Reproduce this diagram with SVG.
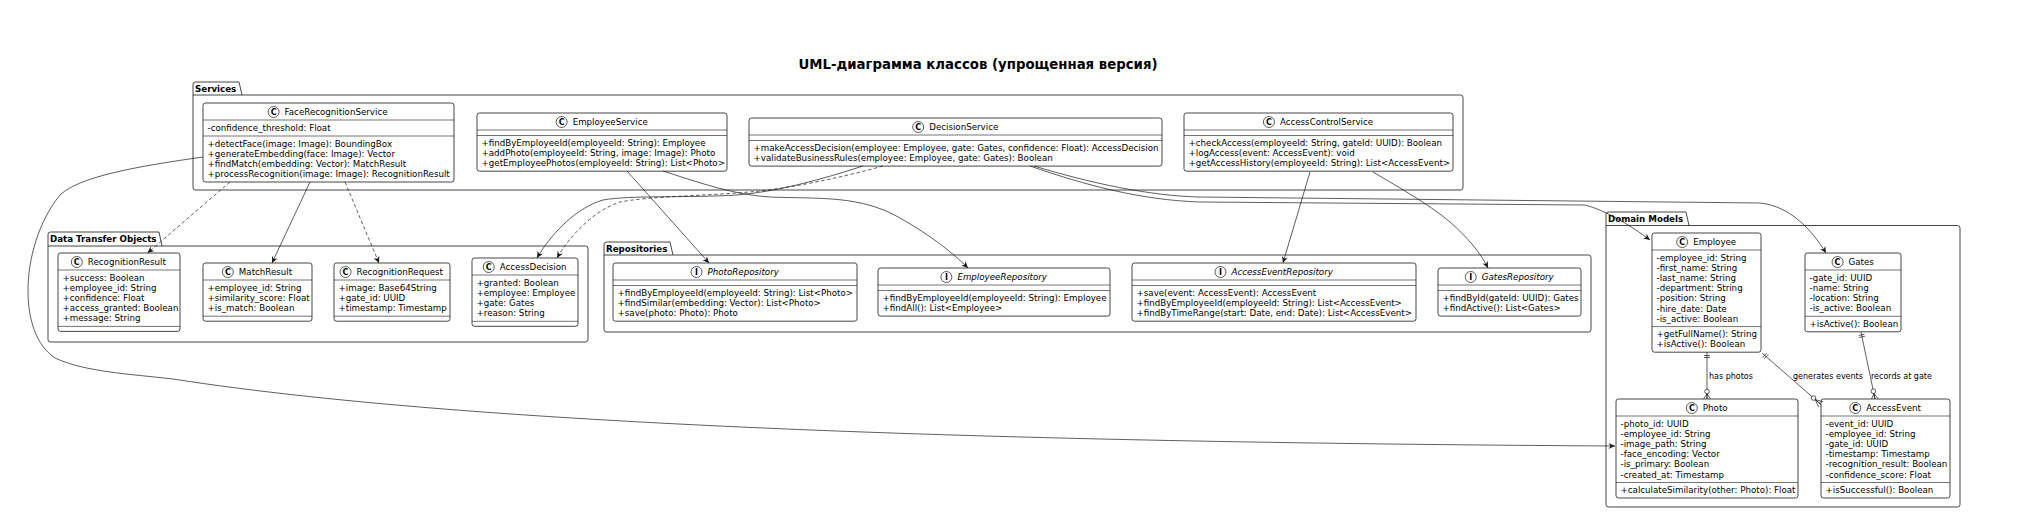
<svg xmlns="http://www.w3.org/2000/svg" width="2038" height="520" viewBox="0 0 2038 520">
<style>
.pkg{fill:none;stroke:#181818;stroke-width:0.8}
.box{fill:#fff;stroke:#181818;stroke-width:0.8}
.sep{stroke:#181818;stroke-width:0.6}
.ic{fill:#fff;stroke:#181818;stroke-width:0.7}
.t{font-family:'DejaVu Sans',Verdana,sans-serif;font-size:8.7px;fill:#000}
.it{font-style:italic}
.il{font-family:'DejaVu Sans',sans-serif;font-size:8px;font-weight:bold;text-anchor:middle;fill:#000}
.pl{font-family:'DejaVu Sans',sans-serif;font-size:8.7px;font-weight:bold;fill:#000}
.lb{font-family:'DejaVu Sans',sans-serif;font-size:8px;fill:#000}
.e{fill:none;stroke:#181818;stroke-width:0.7}
.d{stroke-dasharray:3.5 2.5}
.title{font-family:'DejaVu Sans',sans-serif;font-size:13.3px;font-weight:bold;text-anchor:middle;fill:#000}
</style>
<defs>
<marker id="a" viewBox="-8 -4 9 8" refX="0" refY="0" markerWidth="9" markerHeight="8" markerUnits="userSpaceOnUse" orient="auto"><path d="M0,0 L-6.5,-3 L-4.5,0 L-6.5,3 Z" fill="#181818"/></marker>
</defs>
<rect x="0" y="0" width="2038" height="520" fill="#fff"/>
<text class="title" x="978" y="69">UML-диаграмма классов (упрощенная версия)</text>

<g id="pkg-services">
<path class="pkg" d="M193,84.5 Q193,82 195.5,82 L239,82 L242,95 L1460.5,95 Q1463,95 1463,97.5 L1463,187.5 Q1463,190 1460.5,190 L195.5,190 Q193,190 193,187.5 Z M193,95 H242"/>
<text class="pl" x="195" y="91.5">Services</text>
</g>
<g id="pkg-dto">
<path class="pkg" d="M48,234.5 Q48,232 50.5,232 L159,232 L162,246 L585.5,246 Q588,246 588,248.5 L588,339.5 Q588,342 585.5,342 L50.5,342 Q48,342 48,339.5 Z M48,246 H162"/>
<text class="pl" x="50" y="241.5">Data Transfer Objects</text>
</g>
<g id="pkg-repositories">
<path class="pkg" d="M604,244.5 Q604,242 606.5,242 L670,242 L673,255 L1588.5,255 Q1591,255 1591,257.5 L1591,329.5 Q1591,332 1588.5,332 L606.5,332 Q604,332 604,329.5 Z M604,255 H673"/>
<text class="pl" x="606" y="251.5">Repositories</text>
</g>
<g id="pkg-domain">
<path class="pkg" d="M1606,214.5 Q1606,212 1608.5,212 L1686,212 L1689,225.5 L1957.5,225.5 Q1960,225.5 1960,228 L1960,504.5 Q1960,507 1957.5,507 L1608.5,507 Q1606,507 1606,504.5 Z M1606,225.5 H1689"/>
<text class="pl" x="1608" y="221.5">Domain Models</text>
</g>

<g id="FaceRecognitionService">
<rect class="box" x="203" y="103" width="251" height="79" rx="2.5"/>
<circle class="ic" cx="273.6" cy="112" r="5.5"/><text class="il" x="273.6" y="114.9">C</text>
<text class="t" x="284.6" y="115">FaceRecognitionService</text>
<line class="sep" x1="203" y1="120" x2="454" y2="120"/>
<text class="t" x="207.5" y="131">-confidence_threshold: Float</text>
<line class="sep" x1="203" y1="136" x2="454" y2="136"/>
<text class="t" x="207.5" y="146.5">+detectFace(image: Image): BoundingBox</text>
<text class="t" x="207.5" y="156.6">+generateEmbedding(face: Image): Vector</text>
<text class="t" x="207.5" y="166.7">+findMatch(embedding: Vector): MatchResult</text>
<text class="t" x="207.5" y="176.8">+processRecognition(image: Image): RecognitionResult</text>
</g>
<g id="EmployeeService">
<rect class="box" x="477" y="113" width="250" height="58.2" rx="2.5"/>
<circle class="ic" cx="561.65" cy="122" r="5.5"/><text class="il" x="561.65" y="124.9">C</text>
<text class="t" x="572.65" y="125">EmployeeService</text>
<line class="sep" x1="477" y1="130" x2="727" y2="130"/>
<line class="sep" x1="477" y1="135.5" x2="727" y2="135.5"/>
<text class="t" x="481.5" y="146">+findByEmployeeId(employeeId: String): Employee</text>
<text class="t" x="481.5" y="156.1">+addPhoto(employeeId: String, image: Image): Photo</text>
<text class="t" x="481.5" y="166.2">+getEmployeePhotos(employeeId: String): List&lt;Photo&gt;</text>
</g>
<g id="DecisionService">
<rect class="box" x="749" y="118" width="413" height="48.1" rx="2.5"/>
<circle class="ic" cx="918.2" cy="127" r="5.5"/><text class="il" x="918.2" y="129.9">C</text>
<text class="t" x="929.2" y="130">DecisionService</text>
<line class="sep" x1="749" y1="135" x2="1162" y2="135"/>
<line class="sep" x1="749" y1="140.5" x2="1162" y2="140.5"/>
<text class="t" x="753.5" y="151">+makeAccessDecision(employee: Employee, gate: Gates, confidence: Float): AccessDecision</text>
<text class="t" x="753.5" y="161.1">+validateBusinessRules(employee: Employee, gate: Gates): Boolean</text>
</g>
<g id="AccessControlService">
<rect class="box" x="1184" y="113" width="269" height="58.2" rx="2.5"/>
<circle class="ic" cx="1268.9" cy="122" r="5.5"/><text class="il" x="1268.9" y="124.9">C</text>
<text class="t" x="1279.9" y="125">AccessControlService</text>
<line class="sep" x1="1184" y1="130" x2="1453" y2="130"/>
<line class="sep" x1="1184" y1="135.5" x2="1453" y2="135.5"/>
<text class="t" x="1188.5" y="146">+checkAccess(employeeId: String, gateId: UUID): Boolean</text>
<text class="t" x="1188.5" y="156.1">+logAccess(event: AccessEvent): void</text>
<text class="t" x="1188.5" y="166.2">+getAccessHistory(employeeId: String): List&lt;AccessEvent&gt;</text>
</g>

<g id="RecognitionResult">
<rect class="box" x="58" y="253" width="122" height="78.4" rx="2.5"/>
<circle class="ic" cx="76.8" cy="262" r="5.5"/><text class="il" x="76.8" y="264.9">C</text>
<text class="t" x="87.8" y="265">RecognitionResult</text>
<line class="sep" x1="58" y1="270" x2="180" y2="270"/>
<text class="t" x="62.5" y="281">+success: Boolean</text>
<text class="t" x="62.5" y="291.1">+employee_id: String</text>
<text class="t" x="62.5" y="301.2">+confidence: Float</text>
<text class="t" x="62.5" y="311.3">+access_granted: Boolean</text>
<text class="t" x="62.5" y="321.4">+message: String</text>
<line class="sep" x1="58" y1="326.4" x2="180" y2="326.4"/>
</g>
<g id="MatchResult">
<rect class="box" x="203" y="263" width="109" height="58.2" rx="2.5"/>
<circle class="ic" cx="227.85" cy="272" r="5.5"/><text class="il" x="227.85" y="274.9">C</text>
<text class="t" x="238.85" y="275">MatchResult</text>
<line class="sep" x1="203" y1="280" x2="312" y2="280"/>
<text class="t" x="207.5" y="291">+employee_id: String</text>
<text class="t" x="207.5" y="301.1">+similarity_score: Float</text>
<text class="t" x="207.5" y="311.2">+is_match: Boolean</text>
<line class="sep" x1="203" y1="316.2" x2="312" y2="316.2"/>
</g>
<g id="RecognitionRequest">
<rect class="box" x="334" y="263" width="116" height="58.2" rx="2.5"/>
<circle class="ic" cx="345.55" cy="272" r="5.5"/><text class="il" x="345.55" y="274.9">C</text>
<text class="t" x="356.55" y="275">RecognitionRequest</text>
<line class="sep" x1="334" y1="280" x2="450" y2="280"/>
<text class="t" x="338.5" y="291">+image: Base64String</text>
<text class="t" x="338.5" y="301.1">+gate_id: UUID</text>
<text class="t" x="338.5" y="311.2">+timestamp: Timestamp</text>
<line class="sep" x1="334" y1="316.2" x2="450" y2="316.2"/>
</g>
<g id="AccessDecision">
<rect class="box" x="472" y="258" width="106" height="68.3" rx="2.5"/>
<circle class="ic" cx="488.75" cy="267" r="5.5"/><text class="il" x="488.75" y="269.9">C</text>
<text class="t" x="499.75" y="270">AccessDecision</text>
<line class="sep" x1="472" y1="275" x2="578" y2="275"/>
<text class="t" x="476.5" y="286">+granted: Boolean</text>
<text class="t" x="476.5" y="296.1">+employee: Employee</text>
<text class="t" x="476.5" y="306.2">+gate: Gates</text>
<text class="t" x="476.5" y="316.3">+reason: String</text>
<line class="sep" x1="472" y1="321.3" x2="578" y2="321.3"/>
</g>

<g id="PhotoRepository">
<rect class="box" x="613" y="263" width="244" height="58.2" rx="2.5"/>
<circle class="ic" cx="696.5" cy="272" r="5.5"/><text class="il" x="696.5" y="274.9">I</text>
<text class="t it" x="707.5" y="275">PhotoRepository</text>
<line class="sep" x1="613" y1="280" x2="857" y2="280"/>
<line class="sep" x1="613" y1="285.5" x2="857" y2="285.5"/>
<text class="t" x="617.5" y="296">+findByEmployeeId(employeeId: String): List&lt;Photo&gt;</text>
<text class="t" x="617.5" y="306.1">+findSimilar(embedding: Vector): List&lt;Photo&gt;</text>
<text class="t" x="617.5" y="316.2">+save(photo: Photo): Photo</text>
</g>
<g id="EmployeeRepository">
<rect class="box" x="878" y="268" width="232" height="48.1" rx="2.5"/>
<circle class="ic" cx="946.4" cy="277" r="5.5"/><text class="il" x="946.4" y="279.9">I</text>
<text class="t it" x="957.4" y="280">EmployeeRepository</text>
<line class="sep" x1="878" y1="285" x2="1110" y2="285"/>
<line class="sep" x1="878" y1="290.5" x2="1110" y2="290.5"/>
<text class="t" x="882.5" y="301">+findByEmployeeId(employeeId: String): Employee</text>
<text class="t" x="882.5" y="311.1">+findAll(): List&lt;Employee&gt;</text>
</g>
<g id="AccessEventRepository">
<rect class="box" x="1132" y="263" width="284" height="58.2" rx="2.5"/>
<circle class="ic" cx="1220.5" cy="272" r="5.5"/><text class="il" x="1220.5" y="274.9">I</text>
<text class="t it" x="1231.5" y="275">AccessEventRepository</text>
<line class="sep" x1="1132" y1="280" x2="1416" y2="280"/>
<line class="sep" x1="1132" y1="285.5" x2="1416" y2="285.5"/>
<text class="t" x="1136.5" y="296">+save(event: AccessEvent): AccessEvent</text>
<text class="t" x="1136.5" y="306.1">+findByEmployeeId(employeeId: String): List&lt;AccessEvent&gt;</text>
<text class="t" x="1136.5" y="316.2">+findByTimeRange(start: Date, end: Date): List&lt;AccessEvent&gt;</text>
</g>
<g id="GatesRepository">
<rect class="box" x="1438" y="268" width="143" height="48.1" rx="2.5"/>
<circle class="ic" cx="1470.75" cy="277" r="5.5"/><text class="il" x="1470.75" y="279.9">I</text>
<text class="t it" x="1481.75" y="280">GatesRepository</text>
<line class="sep" x1="1438" y1="285" x2="1581" y2="285"/>
<line class="sep" x1="1438" y1="290.5" x2="1581" y2="290.5"/>
<text class="t" x="1442.5" y="301">+findById(gateId: UUID): Gates</text>
<text class="t" x="1442.5" y="311.1">+findActive(): List&lt;Gates&gt;</text>
</g>

<g id="Employee">
<rect class="box" x="1652" y="233" width="109" height="119.2" rx="2.5"/>
<circle class="ic" cx="1682.2" cy="242" r="5.5"/><text class="il" x="1682.2" y="244.9">C</text>
<text class="t" x="1693.2" y="245">Employee</text>
<line class="sep" x1="1652" y1="250" x2="1761" y2="250"/>
<text class="t" x="1656.5" y="261">-employee_id: String</text>
<text class="t" x="1656.5" y="271.1">-first_name: String</text>
<text class="t" x="1656.5" y="281.2">-last_name: String</text>
<text class="t" x="1656.5" y="291.3">-department: String</text>
<text class="t" x="1656.5" y="301.4">-position: String</text>
<text class="t" x="1656.5" y="311.5">-hire_date: Date</text>
<text class="t" x="1656.5" y="321.6">-is_active: Boolean</text>
<line class="sep" x1="1652" y1="326.6" x2="1761" y2="326.6"/>
<text class="t" x="1656.5" y="337.1">+getFullName(): String</text>
<text class="t" x="1656.5" y="347.2">+isActive(): Boolean</text>
</g>
<g id="Gates">
<rect class="box" x="1805" y="253" width="96" height="78.8" rx="2.5"/>
<circle class="ic" cx="1837.55" cy="262" r="5.5"/><text class="il" x="1837.55" y="264.9">C</text>
<text class="t" x="1848.55" y="265">Gates</text>
<line class="sep" x1="1805" y1="270" x2="1901" y2="270"/>
<text class="t" x="1809.5" y="281">-gate_id: UUID</text>
<text class="t" x="1809.5" y="291.1">-name: String</text>
<text class="t" x="1809.5" y="301.2">-location: String</text>
<text class="t" x="1809.5" y="311.3">-is_active: Boolean</text>
<line class="sep" x1="1805" y1="316.3" x2="1901" y2="316.3"/>
<text class="t" x="1809.5" y="326.8">+isActive(): Boolean</text>
</g>
<g id="Photo">
<rect class="box" x="1616" y="399" width="182" height="99" rx="2.5"/>
<circle class="ic" cx="1691.85" cy="408" r="5.5"/><text class="il" x="1691.85" y="410.9">C</text>
<text class="t" x="1702.85" y="411">Photo</text>
<line class="sep" x1="1616" y1="416" x2="1798" y2="416"/>
<text class="t" x="1620.5" y="427">-photo_id: UUID</text>
<text class="t" x="1620.5" y="437.1">-employee_id: String</text>
<text class="t" x="1620.5" y="447.2">-image_path: String</text>
<text class="t" x="1620.5" y="457.3">-face_encoding: Vector</text>
<text class="t" x="1620.5" y="467.4">-is_primary: Boolean</text>
<text class="t" x="1620.5" y="477.5">-created_at: Timestamp</text>
<line class="sep" x1="1616" y1="482.5" x2="1798" y2="482.5"/>
<text class="t" x="1620.5" y="493">+calculateSimilarity(other: Photo): Float</text>
</g>
<g id="AccessEvent">
<rect class="box" x="1821" y="399" width="129" height="99" rx="2.5"/>
<circle class="ic" cx="1855.3" cy="408" r="5.5"/><text class="il" x="1855.3" y="410.9">C</text>
<text class="t" x="1866.3" y="411">AccessEvent</text>
<line class="sep" x1="1821" y1="416" x2="1950" y2="416"/>
<text class="t" x="1825.5" y="427">-event_id: UUID</text>
<text class="t" x="1825.5" y="437.1">-employee_id: String</text>
<text class="t" x="1825.5" y="447.2">-gate_id: UUID</text>
<text class="t" x="1825.5" y="457.3">-timestamp: Timestamp</text>
<text class="t" x="1825.5" y="467.4">-recognition_result: Boolean</text>
<text class="t" x="1825.5" y="477.5">-confidence_score: Float</text>
<line class="sep" x1="1821" y1="482.5" x2="1950" y2="482.5"/>
<text class="t" x="1825.5" y="493">+isSuccessful(): Boolean</text>
</g>

<g id="connectors">
<path class="e d" d="M230,182 L147.5,253" marker-end="url(#a)"/>
<path class="e" d="M310,182 L272,263" marker-end="url(#a)"/>
<path class="e d" d="M345,182 L379,263" marker-end="url(#a)"/>
<path class="e" d="M203,157 C140,166 80,176 60,195 C38,222 28,260 28,290 C28,320 36,345 55,358 C85,372 130,374 173,379 C500,430 1100,443 1615,446" marker-end="url(#a)"/>
<path class="e" d="M627,171 L709,263" marker-end="url(#a)"/>
<path class="e" d="M663,171 C700,183 735,195 770,197 C820,199 860,195 900,218 C930,235 952,252 968,268" marker-end="url(#a)"/>
<path class="e" d="M863,166 C820,180 775,192 737,195 C690,198 630,195 603,200 C578,207 552,232 537,258" marker-end="url(#a)"/>
<path class="e d" d="M883,166 C840,178 795,187 760,191 C710,196 650,196 620,202 C595,210 570,235 557,258" marker-end="url(#a)"/>
<path class="e" d="M1030,166 C1085,185 1140,200 1200,202 L1585,205 C1605,210 1630,225 1650,240" marker-end="url(#a)"/>
<path class="e" d="M1034,166 C1090,183 1150,196 1200,197 L1760,203 C1790,206 1812,230 1826,253" marker-end="url(#a)"/>
<path class="e" d="M1310,172 L1283,263" marker-end="url(#a)"/>
<path class="e" d="M1373,172 C1400,188 1430,205 1450,222 C1468,238 1480,252 1488,268" marker-end="url(#a)"/>
<path class="e" d="M1707,352.2 V399 M1704,355.5 H1710 M1704,357.5 H1710 M1703.5,399 L1707,394 L1710.5,399 M1707,394 V399"/>
<circle class="ic" cx="1707" cy="391.5" r="2.3"/>
<path class="e" d="M1762,353 L1821,404.5 M1762.6,357.6 L1766.6,353.1 M1764.1,358.9 L1768.1,354.4 M1815.2,399.5 L1818.7,407.1 M1815.2,399.5 L1821,404.5 M1815.2,399.5 L1823.3,401.9"/>
<circle class="ic" cx="1813.5" cy="398" r="2.3"/>
<path class="e" d="M1861,332 L1875,399 M1858.7,335.5 L1864.5,334.3 M1859.1,337.5 L1864.9,336.3 M1873.9,393.5 L1871.6,399 M1873.9,393.5 L1875,399 M1873.9,393.5 L1878.4,399"/>
<circle class="ic" cx="1873.4" cy="391.2" r="2.3"/>
<text class="lb" x="1709" y="379">has photos</text>
<text class="lb" x="1793" y="379">generates events</text>
<text class="lb" x="1871" y="379">records at gate</text>
</g>
</svg>
